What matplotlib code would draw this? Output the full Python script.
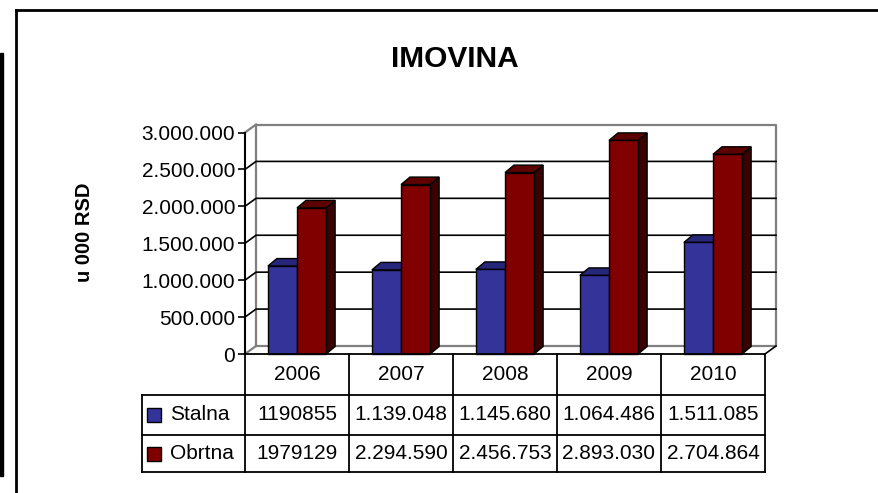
import matplotlib

matplotlib.use("Agg")
import matplotlib.pyplot as plt  # noqa: E402
import matplotlib.transforms as mtransforms  # noqa: E402
from matplotlib.lines import Line2D  # noqa: E402
from matplotlib.patches import Polygon, Rectangle  # noqa: E402

years = ["2006", "2007", "2008", "2009", "2010"]
series_names = ["Stalna", "Obrtna"]
stalna = [1190855, 1139048, 1145680, 1064486, 1511085]
obrtna = [1979129, 2294590, 2456753, 2893030, 2704864]
stalna_text = ["1190855", "1.139.048", "1.145.680", "1.064.486", "1.511.085"]
obrtna_text = ["1979129", "2.294.590", "2.456.753", "2.893.030", "2.704.864"]
y_ticks = [0, 500000, 1000000, 1500000, 2000000, 2500000, 3000000]

W, H = 879, 493
plt.rcParams["font.family"] = ["Liberation Sans", "DejaVu Sans"]

fig = plt.figure(figsize=(W / 100, H / 100), dpi=100)


def px_box(x0, y0, x1, y1):
    return [x0 / W, 1 - y1 / H, (x1 - x0) / W, (y1 - y0) / H]


# front plane of the 3-D plot
ax = fig.add_axes(px_box(245, 132.5, 765, 354))
ax.set_xlim(0, len(years))
ax.set_ylim(0, 3000000)
ax.patch.set_visible(False)
for side in ["top", "right", "bottom"]:
    ax.spines[side].set_visible(False)
ax.spines["left"].set_linewidth(1.5)
ax.set_xticks([])
ax.set_yticks(y_ticks)
ax.set_yticklabels([f"{v:,.0f}".replace(",", ".") for v in y_ticks])
ax.tick_params(axis="y", direction="out", length=5, width=1.2, labelsize=15, pad=2)


def depth(dx, dy):
    # pixel offset -> data offset
    p0 = ax.transData.transform((0, 0))
    p1 = ax.transData.inverted().transform((p0[0] + dx, p0[1] + dy))
    return p1[0], p1[1]


wx, wy = depth(11, 8)
bx, by = depth(9, 7.5)
n = len(years)
top = y_ticks[-1]
grey = "#808080"
nc = dict(clip_on=False)

# walls and floor
ax.plot([wx, n + wx, n + wx, wx, wx], [wy, wy, top + wy, top + wy, wy],
        color=grey, lw=1.6, zorder=1, **nc)
ax.plot([0, wx], [top, top + wy], color=grey, lw=1.6, zorder=1, **nc)
ax.plot([0, wx], [0, wy], color=grey, lw=1.6, zorder=1, **nc)
for v in y_ticks[1:-1]:
    ax.plot([0, wx, n + wx], [v, v + wy, v + wy], color="black", lw=1.2,
            zorder=1, **nc)
ax.plot([n, n + wx], [0, wy], color="black", lw=1.2, zorder=1, **nc)

# bars
colors = {"Stalna": ("#333399", "#26267a", "#1a1a55"),
          "Obrtna": ("#800000", "#5c0000", "#3c0000")}
bw = 0.28
for i in range(n):
    for k, (name, vals) in enumerate(zip(series_names, [stalna, obrtna])):
        front, topc, sidec = colors[name]
        x0 = i + 0.5 - bw + k * bw
        x1 = x0 + bw
        v = vals[i]
        z = 3 + i * 3 + k
        ax.add_patch(Polygon([(x1, 0), (x1 + bx, by), (x1 + bx, v + by), (x1, v)],
                             closed=True, facecolor=sidec, edgecolor="black",
                             lw=1, zorder=z, **nc))
        ax.add_patch(Polygon([(x0, v), (x1, v), (x1 + bx, v + by), (x0 + bx, v + by)],
                             closed=True, facecolor=topc, edgecolor="black",
                             lw=1, zorder=z, **nc))
        ax.bar(x0, v, width=bw, align="edge", color=front, edgecolor="black",
               lw=1, zorder=z, **nc)

# data table under the plot
trans = mtransforms.blended_transform_factory(ax.transData, ax.transAxes)
row_px = [354, 395, 435, 472]
rows = [(354 - y) / 221.5 for y in row_px]
left = -0.99
lk = dict(color="black", lw=1.3, transform=trans, clip_on=False, zorder=20)
ax.plot([0, n], [rows[0], rows[0]], **lk)
for r in rows[1:]:
    ax.plot([left, n], [r, r], **lk)
for c in range(n + 1):
    ax.plot([c, c], [rows[0], rows[3]], **lk)
ax.plot([left, left], [rows[1], rows[3]], **lk)

for i, yr in enumerate(years):
    ax.text(i + 0.5, (rows[0] + rows[1]) / 2, yr, transform=trans,
            ha="center", va="center", fontsize=15)
for r, (name, labels) in enumerate(zip(series_names, [stalna_text, obrtna_text])):
    yc = (rows[r + 1] + rows[r + 2]) / 2
    for i, lab in enumerate(labels):
        ax.text(i + 0.5, yc, lab, transform=trans, ha="center", va="center",
                fontsize=15)
    ax.plot([-0.875], [yc], marker="s", markersize=10.5,
            markerfacecolor=colors[name][0], markeredgecolor="black",
            markeredgewidth=1, transform=trans, clip_on=False)
    ax.text(-0.72, yc, name, transform=trans, ha="left", va="center", fontsize=15)

# title and axis label
fig.text(455 / W, 1 - 67 / H, "IMOVINA", ha="center", va="baseline",
         fontsize=21.5, fontweight="bold")
fig.text(84 / W, 1 - 232 / H, "u 000 RSD", ha="center", va="center",
         rotation=90, fontsize=14.5, fontweight="bold")

# frame around the chart
fig.add_artist(Line2D([16 / W, 1], [1 - 9.5 / H, 1 - 9.5 / H],
                      transform=fig.transFigure, color="black", lw=2))
fig.add_artist(Line2D([16 / W, 16 / W], [1 - 9.5 / H, 0],
                      transform=fig.transFigure, color="black", lw=2))
fig.add_artist(Rectangle((0, 1 - 476 / H), 3.5 / W, (476 - 53) / H,
                         transform=fig.transFigure, color="black"))

fig.savefig("out.png", dpi=100)
plt.close(fig)
